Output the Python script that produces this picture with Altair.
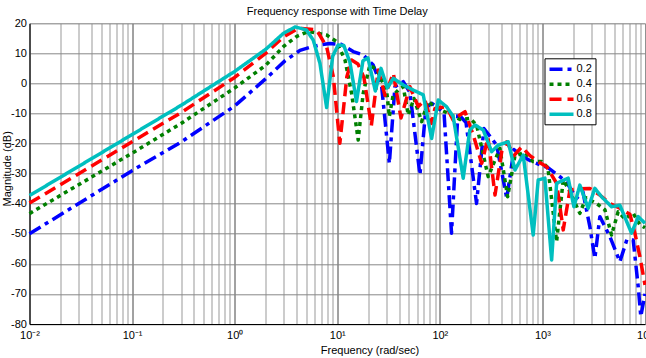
import altair as alt
import pandas as pd

# Magnitude response (dB) versus frequency (rad/sec) for four time delays
delays = ["0.2", "0.4", "0.6", "0.8"]
colors = ["#0000ff", "#008000", "#ff0000", "#00bfbf"]
dashes = [[13, 5, 4, 5], [4, 4], [12, 6], [1, 0]]

freq_02 = [0.01, 0.1, 0.3, 1, 2, 3.09, 4.33, 5.42, 6.78, 8.49, 10.9, 14.3, 17.9, 22.4, 27.1,
           32.2, 36.5, 44.0, 51.1, 64.0, 73.2, 83.2, 95.8, 110, 130, 150, 180, 228, 269, 315,
           358, 449, 528, 650, 790, 946, 1132, 1479, 1730, 2153, 2480, 2900, 3245, 3630, 4545,
           5689, 6653, 7674, 8590, 9100, 10000]
mag_02 = [-50.0, -29.0, -19.5, -7.5, 1.5, 7.5, 11.0, 12.0, 12.8, 13.3, 13.0, 10.6, 9.5, 6.1, -1.1,
          -26.6, -1.1, 0.6, -3.0, -30.4, -8.0, -6.6, -8.0, -10.0, -49.8, -10.0, -13.0, -39.9, -15.0, -18.0,
          -20.5, -38.2, -22.0, -24.4, -26.0, -27.0, -28.0, -31.0, -33.0, -38.2, -36.0, -47.6, -58.2, -44.3, -50.9,
          -59.3, -52.0, -52.1, -67.6, -77.5, -70.0]

freq_04 = [0.01, 0.1, 0.3, 1, 2, 3, 4, 5, 5.42, 7.88, 9.86, 11.9, 13.8, 16.0, 17.9, 20.8, 24.4,
           30.3, 32.2, 35.0, 39.3, 44.0, 49.2, 56.0, 66.5, 76.6, 91.6, 121, 157, 196, 228, 296,
           385, 458, 540, 676, 809, 982, 1130, 1375, 1595, 1855, 2318, 2655, 3396, 4064, 4722,
           5470, 6363, 7674, 8918, 10000]
mag_04 = [-43.3, -23.2, -13.3, -1.5, 6.0, 12.3, 15.6, 17.0, 17.2, 16.1, 13.9, 7.8, -3.3, -18.8, -3.3, 6.1, 4.5,
          -2.5, -11.0, -4.0, -2.2, -1.1, -10.5, -5.0, -12.7, -6.0, -8.0, -10.0, -12.0, -11.6, -13.8, -31.0,
          -21.6, -37.7, -24.0, -23.0, -26.0, -26.0, -28.0, -52.6, -32.1, -36.0, -43.2, -38.0, -40.0, -42.0, -50.4,
          -42.7, -45.0, -43.2, -47.0, -48.0]

freq_06 = [0.01, 0.1, 0.3, 1, 2, 3, 4, 4.5, 6.3, 7.88, 9.16, 10.6, 12.4, 13.8, 15.9, 18.2, 21.5,
           25.1, 29.2, 35.2, 41.8, 51.1, 61.6, 71.6, 83.2, 89.6, 116, 135, 157, 176, 212, 256,
           295, 345, 401, 449, 528, 628, 756, 910, 1099, 1375, 1595, 1855, 2318, 2900, 3630,
           4545, 5689, 7125, 7968, 8918, 10000]
mag_06 = [-39.8, -19.4, -9.7, 2.0, 10.0, 15.5, 18.0, 18.3, 17.8, 12.2, 2.2, -19.9, 2.2, 7.8, 6.5, 2.0, -14.0,
          4.5, -4.0, 3.4, -11.5, -1.1, -7.7, -5.5, -13.3, -8.3, -7.7, -12.2, -10.5, -9.4, -17.2, -26.6,
          -18.0, -37.1, -22.7, -19.4, -24.0, -21.1, -24.0, -26.0, -27.7, -33.2, -48.7, -35.4, -35.0, -34.9, -37.1,
          -39.9, -41.5, -43.5, -49.8, -57.6, -67.0]

freq_08 = [0.01, 0.1, 0.3, 1, 2, 3, 3.9, 5, 5.84, 6.78, 7.88, 9.02, 10.2, 11.6, 13.3, 15.4, 17.8,
           19.9, 23.5, 26.7, 30.8, 35.2, 44.0, 55.0, 68.9, 83.2, 96.5, 116, 135, 169, 196, 220,
           265, 320, 371, 464, 540, 650, 813, 910, 1057, 1230, 1375, 1783, 2027, 2318, 2793,
           3245, 3773, 4722, 5689, 7396, 8590, 10000]
mag_08 = [-37.3, -17.0, -7.3, 4.0, 11.3, 16.7, 18.8, 17.8, 14.4, 6.7, -8.0, 9.0, 12.8, 12.6, 7.0, -6.0, 7.5,
          8.5, -2.5, 5.0, -1.5, 1.7, -0.5, -2.2, -3.8, -18.3, -5.5, -7.7, -11.0, -31.5, -15.5, -13.8,
          -15.5, -22.7, -20.5, -19.4, -28.8, -23.8, -50.4, -32.1, -31.5, -58.7, -33.2, -31.5, -41.0, -33.8, -41.5,
          -34.9, -37.7, -41.0, -40.5, -49.8, -44.3, -46.5]

series = {"0.2": (freq_02, mag_02), "0.4": (freq_04, mag_04),
          "0.6": (freq_06, mag_06), "0.8": (freq_08, mag_08)}

rows = []
for name, (fs, ms) in series.items():
    for i, (f, m) in enumerate(zip(fs, ms)):
        rows.append({"delay": name, "freq": f, "mag": m, "idx": i})
df = pd.DataFrame(rows)

FONT = "Liberation Sans"

# log-axis grid: every integer multiple inside each decade, labels on decades only
x_ticks = [d * 10 ** e for e in range(-2, 4) for d in range(1, 10)] + [10000]
sup = {-2: "⁻²", -1: "⁻¹", 0: "⁰", 1: "¹", 2: "²", 3: "³", 4: "⁴"}
label_expr = "''"
for e in range(4, -3, -1):
    label_expr = f"(abs(datum.value - {10 ** e}) < {10 ** e} * 1e-6) ? '10{sup[e]}' : " + f"({label_expr})"

decade_test = "indexof([0.01, 0.1, 1, 10, 100, 1000, 10000], datum.value) >= 0"

legend = alt.Legend(
    title=None, orient="none", legendX=515, legendY=35,
    strokeColor="black", fillColor="white", padding=3,
    symbolType="M-2,0H2", symbolSize=144, symbolStrokeWidth=3.5, symbolOffset=6,
    labelFont=FONT, labelFontSize=11, labelColor="black", rowPadding=-4, labelOffset=7,
)

base = alt.Chart(df).mark_line(strokeWidth=3.5, strokeCap="butt", strokeJoin="round").encode(
    x=alt.X("freq:Q",
            scale=alt.Scale(type="log", domain=[0.01, 10000], nice=False),
            axis=alt.Axis(values=x_ticks, labelExpr=label_expr, title="Frequency (rad/sec)",
                          grid=True,
                          gridColor={"condition": {"test": decade_test, "value": "#444444"},
                                     "value": "#999999"},
                          ticks=False, domainColor="black", labelFont=FONT, labelFontSize=11,
                          labelColor="black", labelPadding=5, labelFlush=False,
                          titleFont=FONT, titleFontSize=11, titleFontWeight="normal",
                          titleColor="black", titleX=340, titlePadding=4)),
    y=alt.Y("mag:Q",
            scale=alt.Scale(domain=[-80, 20], nice=False),
            axis=alt.Axis(values=list(range(-80, 30, 10)), labelExpr="datum.value + ''",
                          title="Magnitude (dB)", grid=True, gridColor="#888888",
                          ticks=False, domainColor="black", labelFont=FONT, labelFontSize=11,
                          labelColor="black", labelPadding=3,
                          titleFont=FONT, titleFontSize=11, titleFontWeight="normal",
                          titleColor="black", titleX=-17, titleY=145)),
    color=alt.Color("delay:N", scale=alt.Scale(domain=delays, range=colors), legend=legend),
    strokeDash=alt.StrokeDash("delay:N", scale=alt.Scale(domain=delays, range=dashes), legend=legend),
    order="idx:Q",
)

layers = [base.transform_filter(alt.datum.delay == d) for d in delays]

chart = alt.layer(*layers).properties(
    width=615.5, height=300.7,
    title=alt.Title("Frequency response with Time Delay", font=FONT, fontSize=11,
                    fontWeight="normal", color="black", offset=0),
    autosize=alt.AutoSizeParams(type="none"),
    padding={"left": 29.5, "top": 23.3, "right": 1, "bottom": 34},
).configure_view(stroke="#444444").configure(background="white")

chart.save("out.html", embed_options={"renderer": "svg", "actions": False})
